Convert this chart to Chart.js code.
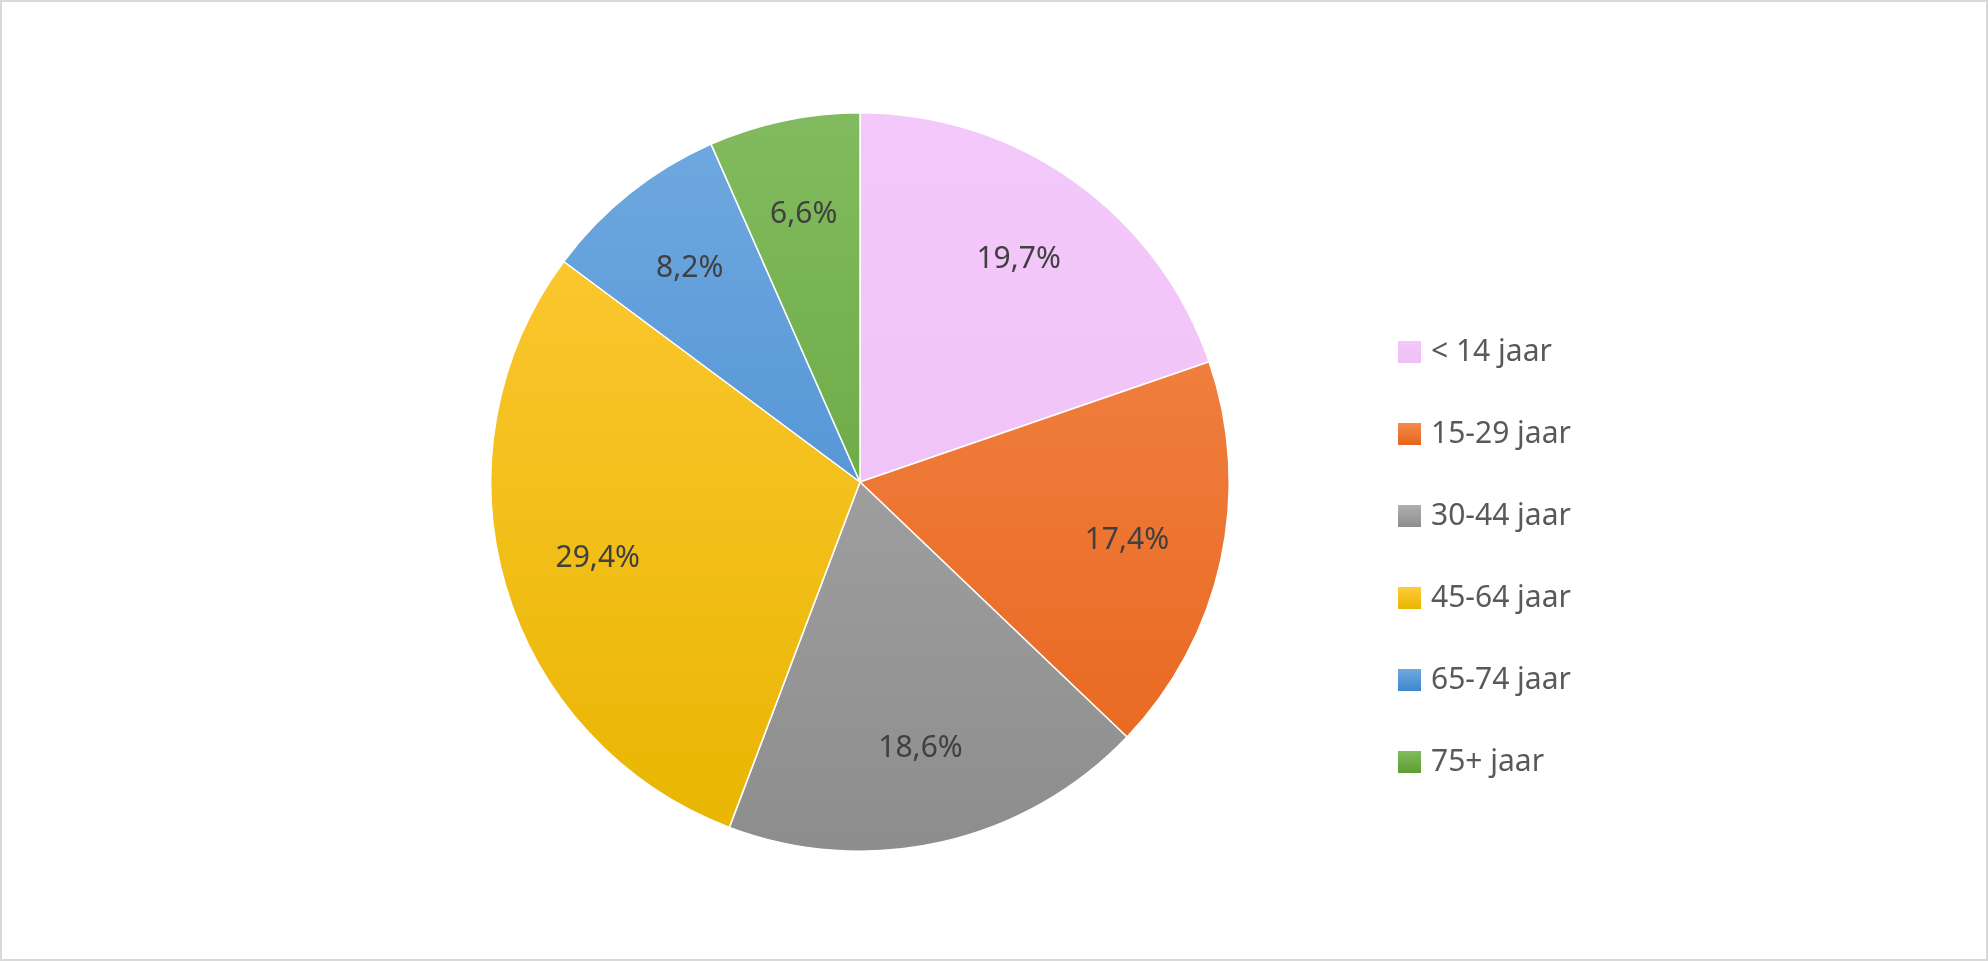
<!DOCTYPE html>
<html><head><meta charset="utf-8">
<script src="https://cdn.jsdelivr.net/npm/chart.js@4"></script>
<style>html,body{margin:0;padding:0;background:#fff}#w{position:absolute;left:0;top:0;width:1988px;height:961px}</style>
</head><body><div id="w"><canvas id="c"></canvas></div>
<script>
const categories = ["< 14 jaar","15-29 jaar","30-44 jaar","45-64 jaar","65-74 jaar","75+ jaar"];
const values = [19.7,17.4,18.6,29.4,8.2,6.6];
const labelsText = ["19,7%","17,4%","18,6%","29,4%","8,2%","6,6%"];
const colTop = ["#F3C8FA","#F48B4E","#AFAFAF","#FFCB3A","#70A9DF","#82BB5F"];
const colBot = ["#EFC0F6","#E7641B","#8D8D8D","#E8B500","#3E86CF","#5C9D31"];
const FONT = "'Noto Sans', 'Liberation Sans', sans-serif";

function grad(ctx, area, i){
  if(!area) return colTop[i];
  const g = ctx.createLinearGradient(0, area.top, 0, area.bottom);
  g.addColorStop(0, colTop[i]); g.addColorStop(1, colBot[i]); return g;
}
const frame = {id:'frame', beforeDraw(ch){const c=ch.ctx;c.save();c.fillStyle='#fff';c.fillRect(0,0,ch.width,ch.height);c.strokeStyle='#D9D9D9';c.lineWidth=2;c.strokeRect(1,1,ch.width-2,ch.height-2);c.restore();}};
const lbl = {id:'lbl', afterDatasetsDraw(ch){
  const c=ch.ctx; const meta=ch.getDatasetMeta(0);
  c.save(); c.font="30px "+FONT; c.fillStyle="#404040"; c.textAlign='center'; c.textBaseline='middle';
  meta.data.forEach((a,i)=>{const p=a.getProps(['x','y','startAngle','endAngle','outerRadius'],true);
    const m=(p.startAngle+p.endAngle)/2, r=p.outerRadius*0.74;
    c.fillText(labelsText[i], p.x+Math.cos(m)*r, p.y+Math.sin(m)*r);});
  // legend
  c.textAlign='left'; c.fillStyle="#595959";
  categories.forEach((t,i)=>{const y=352+i*82;
    const g=c.createLinearGradient(0,y-11,0,y+11);g.addColorStop(0,colTop[i]);g.addColorStop(1,colBot[i]);
    c.fillStyle=g; c.fillRect(1398,y-11,23,22); c.fillStyle="#595959"; c.fillText(t,1431,y);});
  c.restore();}};
new Chart(document.getElementById('c'),{
  type:'pie',
  data:{labels:categories,datasets:[{data:values,
    backgroundColor:(ctx)=>grad(ctx.chart.ctx, ctx.chart.chartArea, ctx.dataIndex),
    borderColor:'#fff',borderWidth:1.5}]},
  options:{responsive:true,maintainAspectRatio:false,animation:false,
    layout:{padding:{left:490,right:758,top:112,bottom:109}},
    plugins:{legend:{display:false},tooltip:{enabled:false}}},
  plugins:[frame,lbl]
});
</script></body></html>
